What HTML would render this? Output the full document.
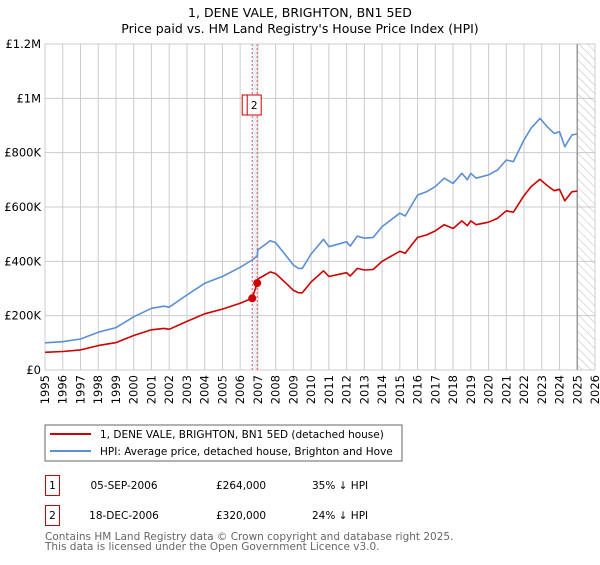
<!DOCTYPE html>
<html><head><meta charset="utf-8"><style>
body{margin:0;background:#fff;}
svg text{font-family:"DejaVu Sans","Liberation Sans",sans-serif;}
</style></head><body>
<svg id="chart" width="600" height="560" xmlns="http://www.w3.org/2000/svg">
<defs><pattern id="hatch" width="6" height="6" patternUnits="userSpaceOnUse" patternTransform="rotate(-45)"><line x1="0" y1="0" x2="0" y2="6" stroke="#bbb" stroke-width="1"/></pattern></defs>
<text x="300" y="17" text-anchor="middle" font-size="12.5" fill="#000">1, DENE VALE, BRIGHTON, BN1 5ED</text>
<text x="300" y="33" text-anchor="middle" font-size="12.5" fill="#000">Price paid vs. HM Land Registry's House Price Index (HPI)</text>
<g id="grid"></g><g id="marks"></g><g id="axes"></g>
<g>
<rect x="45" y="425" width="357" height="36" fill="#fff" stroke="#666"/>
<line x1="50" y1="434" x2="91" y2="434" stroke="#cc0000" stroke-width="2"/>
<text x="100" y="438" font-size="10.5">1, DENE VALE, BRIGHTON, BN1 5ED (detached house)</text>
<line x1="50" y1="451" x2="91" y2="451" stroke="#5b8fd4" stroke-width="2"/>
<text x="100" y="455" font-size="10.5">HPI: Average price, detached house, Brighton and Hove</text>
</g>
<g font-size="10.5">
<rect x="45.5" y="475.5" width="14" height="20" fill="#fff" stroke="#cc0000"/>
<text x="52.5" y="489" text-anchor="middle">1</text>
<text x="124" y="489" text-anchor="middle">05-SEP-2006</text>
<text x="216" y="489">£264,000</text>
<text x="312" y="489">35% ↓ HPI</text>
<rect x="45.5" y="505.5" width="14" height="20" fill="#fff" stroke="#cc0000"/>
<text x="52.5" y="519" text-anchor="middle">2</text>
<text x="124" y="519" text-anchor="middle">18-DEC-2006</text>
<text x="216" y="519">£320,000</text>
<text x="312" y="519">24% ↓ HPI</text>
</g>
<text x="45" y="540" font-size="10.5" fill="#666">Contains HM Land Registry data © Crown copyright and database right 2025.</text>
<text x="45" y="550" font-size="10.5" fill="#666">This data is licensed under the Open Government Licence v3.0.</text>
</svg>
<script>
const hpiYears=[1995,1996,1997,1998,1999,2000,2001,2001.7,2002,2003,2004,2005,2006,2006.68,2006.96,2007,2007.7,2008,2008.7,2009,2009.3,2009.5,2010,2010.7,2011,2012,2012.2,2012.6,2013,2013.5,2014,2015,2015.3,2016,2016.5,2017,2017.5,2018,2018.5,2018.8,2019,2019.3,2020,2020.5,2021,2021.4,2022,2022.4,2022.9,2023.3,2023.7,2024,2024.3,2024.7,2025];
const hpiValues=[100,104,114,139,156,196,227,235,231,276,319,344,378,405,420,442,476,469,411,386,374,374,427,481,454,472,456,493,485,488,528,577,567,644,656,675,706,687,724,700,724,706,718,736,773,767,847,890,926,896,871,877,822,865,869];
const priceYears=[1995,1996,1997,1998,1999,2000,2001,2001.7,2002,2003,2004,2005,2006,2006.68,2006.96,2007,2007.7,2008,2008.7,2009,2009.3,2009.5,2010,2010.7,2011,2012,2012.2,2012.6,2013,2013.5,2014,2015,2015.3,2016,2016.5,2017,2017.5,2018,2018.5,2018.8,2019,2019.3,2020,2020.5,2021,2021.4,2022,2022.4,2022.9,2023.3,2023.7,2024,2024.3,2024.7,2025];
const priceValues=[65,68,74,90,101,127,148,153,150,179,207,224,246,264,320,335,361,355,312,293,284,284,324,365,344,358,346,374,368,370,400,437,430,488,497,512,535,521,549,531,549,535,544,558,586,581,642,675,702,679,660,665,623,656,659];
const saleYears=[2006.68,2006.96];
const saleValues=[264,320];
const yTicks=[0,200,400,600,800,1000,1200];
const yTickLabels=["£0","£200K","£400K","£600K","£800K","£1M","£1.2M"];
const xTicks=[1995,1996,1997,1998,1999,2000,2001,2002,2003,2004,2005,2006,2007,2008,2009,2010,2011,2012,2013,2014,2015,2016,2017,2018,2019,2020,2021,2022,2023,2024,2025,2026];
const X0=45,X1=595,Y0=370,Y1=44;
const xs=y=>X0+(y-1995)/31*(X1-X0);
const ys=v=>Y0-v/1200*(Y0-Y1);
const NS="http://www.w3.org/2000/svg";
function mk(t,a,p){const e=document.createElementNS(NS,t);for(const k in a)e.setAttribute(k,a[k]);p.appendChild(e);return e;}
const grid=document.getElementById('grid'),marks=document.getElementById('marks'),axes=document.getElementById('axes');
yTicks.forEach((v,i)=>{
 const l=mk('line',{x1:X0,x2:X1,y1:ys(v),y2:ys(v),stroke:'#ccc'},grid);
 
 
 const t=mk('text',{x:X0-4,y:ys(v)+4,'text-anchor':'end','font-size':'11.5'},axes);
 t.textContent=yTickLabels[i];
 
 
});
xTicks.forEach(y=>{
 const l=mk('line',{x1:xs(y),x2:xs(y),y1:Y1,y2:Y0,stroke:'#ccc'},grid);
 
 
 const t=mk('text',{x:0,y:0,'text-anchor':'end','font-size':'11.5',transform:`translate(${xs(y)+4},${Y0+5}) rotate(-90)`},axes);
 t.textContent=y;
 
 
});
const h=mk('rect',{x:xs(2025.0),y:Y1,width:X1-xs(2025.0),height:Y0-Y1,fill:'url(#hatch)'},grid);


const hl=mk('line',{x1:xs(2025.0),x2:xs(2025.0),y1:Y1,y2:Y0,stroke:'#999','stroke-width':1.5},grid);


const band=mk('rect',{x:xs(saleYears[0]),y:Y1,width:xs(saleYears[1])-xs(saleYears[0]),height:Y0-Y1,fill:'#dde8f8',opacity:0.6},grid);


saleYears.forEach(y=>{
 const l=mk('line',{x1:xs(y),x2:xs(y),y1:Y1,y2:Y0,stroke:'#ee5555','stroke-dasharray':'2,2'},grid);
 
 
});
function path(xa,va,color,name){
 const d=xa.map((y,i)=>(i?'L':'M')+xs(y).toFixed(1)+','+ys(va[i]).toFixed(1)).join('');
 const p=mk('path',{d,fill:'none',stroke:color,'stroke-width':1.6,'stroke-linejoin':'round'},marks);
 
 
}
path(hpiYears,hpiValues,'#5b8fd4','hpi-line');
path(priceYears,priceValues,'#cc0000','price-line');
saleYears.forEach((y,i)=>{
 const c=mk('circle',{cx:xs(y),cy:ys(saleValues[i]),r:4,fill:'#cc0000'},marks);
 
 
});
[["1",saleYears[0]],["2",saleYears[1]]].forEach(([t,y])=>{
 const g=mk('g',{},marks);
 
 
 mk('rect',{x:xs(y)-10,y:95,width:14,height:20,fill:'#fff',stroke:'#cc0000'},g);
 const tx=mk('text',{x:xs(y)-3,y:109,'text-anchor':'middle','font-size':'10.5'},g);
 tx.textContent=t;
});
</script>
</body></html>
